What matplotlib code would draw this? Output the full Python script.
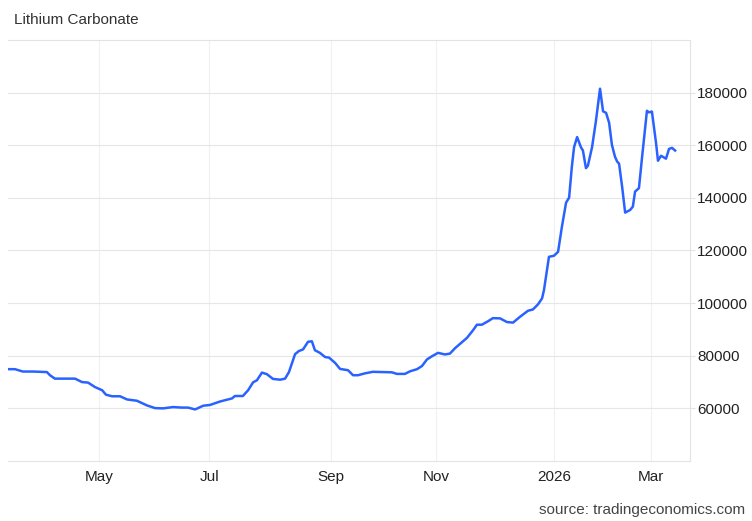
import matplotlib
matplotlib.use("Agg")
import matplotlib.pyplot as plt

plt.rcParams['font.family'] = ['Liberation Sans', 'DejaVu Sans']

# trading-day index (x) and price in CNY/T
day = [0.0, 2.5, 5.4, 9.1, 14.1, 15.2, 17.0, 24.3, 26.8, 29.0, 31.5, 34.1, 35.5, 37.7,
       40.6, 43.1, 46.7, 50.4, 53.3, 56.2, 59.8, 63.0, 65.2, 67.8, 70.7, 73.2, 76.8,
       81.2, 82.2, 85.1, 87.0, 88.8, 90.2, 92.0, 93.8, 96.0, 98.6, 100.4, 101.8, 104.0,
       105.4, 106.9, 108.7, 110.1, 111.2, 113.0, 114.9, 116.3, 118.5, 120.3, 123.2,
       125.0, 126.8, 129.3, 132.2, 139.1, 140.9, 143.8, 145.7, 148.2, 150.0, 151.8,
       153.6, 155.8, 158.3, 160.1, 162.0, 166.3, 168.5, 169.9, 171.7, 173.9, 175.7,
       178.3, 180.8, 183.0, 185.5, 188.4, 190.2, 192.0, 193.5, 194.2, 196.0, 197.8,
       199.3, 200.7, 202.2, 203.3, 204.3, 205.1, 206.2, 207.6, 208.3, 209.4, 210.1,
       211.6, 213.0, 214.5, 215.6, 216.7, 217.8, 218.8, 219.9, 220.7, 221.4, 222.5,
       223.6, 225.4, 226.4, 227.2, 228.6, 229.7, 231.5, 232.2, 233.3, 234.8, 235.5,
       236.6, 238.4, 239.5, 240.6, 241.7]
price = [74900, 74900, 74000, 74000, 73800, 72600, 71300, 71300, 70000, 69800, 68100,
         66900, 65200, 64600, 64600, 63400, 62900, 61100, 60100, 60000, 60500, 60300,
         60300, 59600, 61000, 61300, 62600, 63800, 64700, 64700, 66900, 69900, 70700,
         73600, 73000, 71200, 70900, 71300, 73800, 80600, 81800, 82400, 85300, 85500,
         82100, 81100, 79500, 79300, 77300, 75000, 74500, 72600, 72600, 73300, 73900,
         73700, 73100, 73100, 74100, 74900, 76100, 78600, 79800, 81100, 80500, 80800,
         82900, 86800, 89700, 91800, 91800, 93100, 94300, 94200, 92800, 92600, 94800,
         97100, 97600, 99500, 101800, 105000, 117600, 118000, 119500, 129100, 138200,
         140100, 151900, 159300, 163100, 159200, 158000, 151300, 152200, 159200, 169100,
         181500, 172900, 172300, 168500, 160200, 155700, 153800, 153000, 144300, 134400,
         135400, 136700, 142400, 143700, 155100, 173100, 172500, 172800, 160800, 154100,
         156000, 154900, 158600, 159000, 158000]

month_pos = [33, 73, 117, 155, 198, 233]
month_labels = ["May", "Jul", "Sep", "Nov", "2026", "Mar"]
y_ticks = [60000, 80000, 100000, 120000, 140000, 160000, 180000]

W, H = 752, 521
fig = plt.figure(figsize=(W / 100, H / 100), dpi=100)
ax = fig.add_axes([8 / W, (H - 461) / H, (690 - 8) / W, (461 - 40) / H])

ax.plot(day, price, color="#2962ff", lw=1.8, solid_joinstyle="round")

ax.set_xlim(0, 247.1)
ax.set_ylim(40000, 200000)

ax.set_xticks(month_pos)
ax.set_xticklabels(month_labels)
ax.set_yticks(y_ticks)
ax.set_yticklabels([str(v) for v in y_ticks])

ax.yaxis.tick_right()
ax.tick_params(axis="y", direction="out", length=3.5, width=0.8, color="#e3e3e3",
               pad=1.5, labelsize=11, labelcolor="#222222")
ax.tick_params(axis="x", length=0, pad=6.5, labelsize=11, labelcolor="#222222")

ax.grid(axis="y", color="#e6e6e6", lw=0.8)
ax.grid(axis="x", color="#edf1f4", lw=0.8)
ax.set_axisbelow(True)

ax.spines["left"].set_visible(False)
for s in ["top", "bottom", "right"]:
    ax.spines[s].set_color("#e3e3e3")
    ax.spines[s].set_linewidth(0.8)

fig.text(14 / W, 1 - 20 / H, "Lithium Carbonate", fontsize=11, color="#333333",
         ha="left", va="center")
fig.text(745 / W, 1 - 510 / H, "source: tradingeconomics.com", fontsize=11,
         color="#444444", ha="right", va="center")

fig.savefig("out.png", dpi=100)
